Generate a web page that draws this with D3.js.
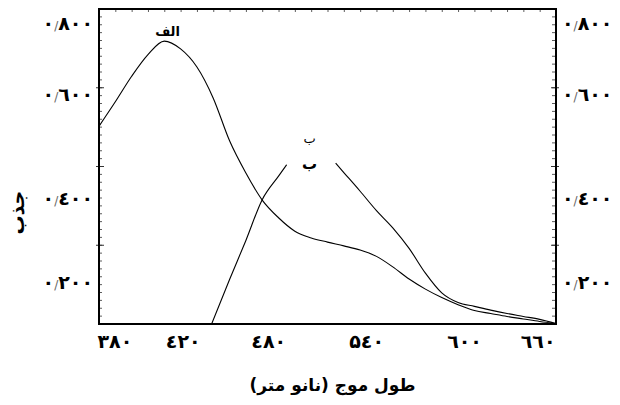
<!DOCTYPE html>
<html>
<head>
<meta charset="utf-8">
<script src="https://cdn.jsdelivr.net/npm/d3@7"></script>
<style>
    body { margin: 0; background: #fff; }
    svg { display: block; }
    .lbl { font-family: "DejaVu Sans", sans-serif; font-weight: bold; fill: #000; }
</style>
</head>
<body>
<div id="chart"></div>
<script>
// curve A (الف) on a 10 nm grid
const wavelengths = [380, 390, 400, 410, 420, 430, 440, 450, 460, 470, 480, 490, 500, 510, 520,
    530, 540, 550, 560, 570, 580, 590, 600, 610, 620, 630, 640, 650, 660];
const absA = [0.538, 0.585, 0.650, 0.711, 0.749, 0.727, 0.676, 0.592, 0.510, 0.448, 0.395, 0.353, 0.321, 0.305, 0.295,
    0.286, 0.276, 0.261, 0.236, 0.207, 0.183, 0.163, 0.146, 0.132, 0.125, 0.118, 0.112, 0.106, 0.101];
// curve B (ب), broken where the label sits
const waveB = [449, 460, 470, 480, 490, 495, 510, 525, 530, 540, 550, 560, 570, 580, 590, 600, 610, 620, 630, 640, 650, 660];
const absB = [0.100, 0.206, 0.299, 0.396, 0.442, 0.464, null, 0.467, 0.449, 0.413, 0.370, 0.329, 0.280, 0.221, 0.174,
    0.151, 0.142, 0.133, 0.125, 0.118, 0.111, 0.101];

const xTicks = [380, 420, 480, 540, 600, 660];
const xTickLabels = ["٣٨٠", "٤٢٠", "٤٨٠", "۵٤٠", "٦٠٠", "٦٦٠"];
const yTicks = [0.2, 0.4, 0.6, 0.8];
const yTickLabels = ["٠/٢٠٠", "٠/٤٠٠", "٠/٦٠٠", "٠/٨٠٠"];

const xTitle = "طول موج (نانو متر)";
const yTitle = "جذب";

const W = 620, H = 405;
const box = {left: 99, right: 556, top: 9, bottom: 324};

const x = d3.scaleLinear().domain([380, 660]).range([box.left, box.right]);
// the printed scale is not evenly spaced, so the y scale follows the labels
const y = d3.scaleLinear().domain([0.2, 0.4, 0.6, 0.8]).range([282, 198, 94, 23]);
// tick divisions along the frame (10 minor per major)
const frame = d3.scaleLinear().domain([0, 40]).range([box.bottom, box.top]);

const svg = d3.select("#chart").append("svg")
    .attr("width", W)
    .attr("height", H);

svg.append("defs").append("clipPath").attr("id", "clip")
    .append("rect")
    .attr("x", box.left).attr("y", box.top)
    .attr("width", box.right - box.left).attr("height", box.bottom - box.top);

// minor ticks, left and right, pointing inward
const minor = d3.range(0, 41);
svg.append("g")
    .selectAll("line")
    .data(minor)
    .enter().append("line")
    .attr("x1", box.left).attr("x2", box.left + 3)
    .attr("y1", d => frame(d)).attr("y2", d => frame(d))
    .attr("stroke", "#333").attr("stroke-width", 0.8);
svg.append("g")
    .selectAll("line")
    .data(minor)
    .enter().append("line")
    .attr("x1", box.right).attr("x2", box.right - 4)
    .attr("y1", d => frame(d)).attr("y2", d => frame(d))
    .attr("stroke", "#333").attr("stroke-width", 0.8);

// major ticks cross the frame
const major = [10, 20, 30];
svg.append("g")
    .selectAll("line")
    .data(major)
    .enter().append("line")
    .attr("x1", box.left - 3).attr("x2", box.left + 5)
    .attr("y1", d => frame(d)).attr("y2", d => frame(d))
    .attr("stroke", "#333").attr("stroke-width", 1);
svg.append("g")
    .selectAll("line")
    .data(major)
    .enter().append("line")
    .attr("x1", box.right - 5).attr("x2", box.right + 3)
    .attr("y1", d => frame(d)).attr("y2", d => frame(d))
    .attr("stroke", "#333").attr("stroke-width", 1);

// top ticks every 10 nm
svg.append("g")
    .attr("transform", "translate(0," + box.top + ")")
    .call(d3.axisBottom(x).tickValues(d3.range(390, 660, 10)).tickSize(3).tickFormat(""))
    .call(g => g.select(".domain").remove())
    .call(g => g.selectAll("line").attr("stroke", "#333").attr("stroke-width", 0.8));

// frame
svg.append("rect")
    .attr("x", box.left).attr("y", box.top)
    .attr("width", box.right - box.left).attr("height", box.bottom - box.top)
    .attr("fill", "none")
    .attr("stroke", "#000")
    .attr("stroke-width", 2);

// x tick labels
svg.append("g")
    .attr("transform", "translate(0," + box.bottom + ")")
    .call(d3.axisBottom(x).tickValues(xTicks).tickSize(0).tickPadding(11)
        .tickFormat((d, i) => xTickLabels[i]))
    .call(g => g.select(".domain").remove())
    .call(g => g.selectAll("text")
        .attr("class", "lbl")
        .style("font-size", "19px")
        .style("letter-spacing", "-1.5px")
        .attr("text-anchor", (d, i) => i < 2 ? "start" : (i === xTicks.length - 1 ? "end" : "middle"))
        .attr("dx", (d, i) => i === 0 ? -2 : (i === 1 ? 1 : (i === xTicks.length - 1 ? -1 : 6))));

// y tick labels with a thin decimal slash
function slashLabels(g) {
    g.select(".domain").remove();
    g.selectAll("text")
        .attr("class", "lbl")
        .style("font-size", "19px")
        .style("letter-spacing", "-1.5px")
        .each(function (d, i) {
            const parts = yTickLabels[i].split("/");
            const t = d3.select(this).text(null);
            t.append("tspan").text(parts[0]);
            t.append("tspan")
                .style("font-weight", "normal")
                .style("font-size", "12px")
                .style("fill", "#666")
                .text("/");
            t.append("tspan").text(parts[1]);
        });
}
svg.append("g")
    .attr("transform", "translate(" + box.left + ",0)")
    .call(d3.axisLeft(y).tickValues(yTicks).tickSize(0).tickPadding(6))
    .call(slashLabels);
svg.append("g")
    .attr("transform", "translate(" + box.right + ",0)")
    .call(d3.axisRight(y).tickValues(yTicks).tickSize(0).tickPadding(6))
    .call(slashLabels);

// curves
const lineA = d3.line()
    .x((d, i) => x(wavelengths[i]))
    .y(d => y(d))
    .curve(d3.curveMonotoneX);
const lineB = d3.line()
    .defined(d => d != null)
    .x((d, i) => x(waveB[i]))
    .y(d => y(d))
    .curve(d3.curveMonotoneX);

const plot = svg.append("g").attr("clip-path", "url(#clip)");
plot.append("path")
    .datum(absA)
    .attr("d", lineA)
    .attr("fill", "none")
    .attr("stroke", "#000")
    .attr("stroke-width", 1.1);
plot.append("path")
    .datum(absB)
    .attr("d", lineB)
    .attr("fill", "none")
    .attr("stroke", "#000")
    .attr("stroke-width", 1.1);

// curve labels
svg.append("text")
    .attr("class", "lbl")
    .attr("x", x(422))
    .attr("y", y(0.749) - 5)
    .attr("text-anchor", "middle")
    .style("font-size", "13px")
    .text("الف");
svg.append("text")
    .attr("class", "lbl")
    .attr("x", x(509))
    .attr("y", y(0.505))
    .attr("text-anchor", "middle")
    .style("font-size", "13px")
    .style("font-weight", "normal")
    .text("ب");
svg.append("text")
    .attr("class", "lbl")
    .attr("x", x(509))
    .attr("y", y(0.455))
    .attr("text-anchor", "middle")
    .style("font-size", "15px")
    .text("ب");

// axis titles
svg.append("text")
    .attr("class", "lbl")
    .attr("x", (box.left + box.right) / 2 + 5)
    .attr("y", 391)
    .attr("text-anchor", "middle")
    .style("font-size", "17px")
    .text(xTitle);
svg.append("text")
    .attr("class", "lbl")
    .attr("transform", "translate(24," + y(0.365) + ") rotate(-90)")
    .attr("text-anchor", "middle")
    .style("font-size", "19px")
    .text(yTitle);
</script>
</body>
</html>
